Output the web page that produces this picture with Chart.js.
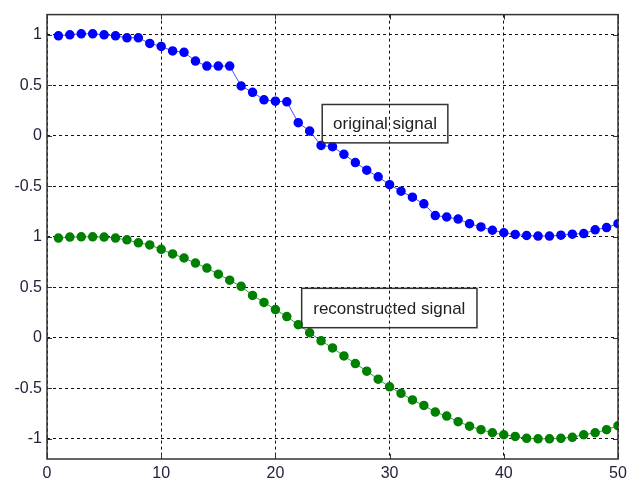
<!DOCTYPE html>
<html>
<head>
<meta charset="utf-8">
<script src="https://cdn.jsdelivr.net/npm/chart.js@4.4.1/dist/chart.umd.min.js"></script>
<style>
  body { margin: 0; background: #fff; }
  canvas { display: block; }
</style>
</head>
<body>
<canvas id="myChart" width="641" height="485"></canvas>
<script>
var xValues = [1,2,3,4,5,6,7,8,9,10,11,12,13,14,15,16,17,18,19,20,21,22,23,24,25,
               26,27,28,29,30,31,32,33,34,35,36,37,38,39,40,41,42,43,44,45,46,47,48,49,50];

var originalSignal = [0.99, 1.00, 1.01, 1.01, 1.00, 0.99, 0.97, 0.97, 0.915, 0.885,
                      0.84, 0.826, 0.74, 0.69, 0.69, 0.69, 0.493, 0.431, 0.356, 0.343,
                      0.336, 0.13, 0.047, -0.095, -0.108, -0.183, -0.265, -0.34, -0.406, -0.484,
                      -0.549, -0.608, -0.674, -0.79, -0.804, -0.824, -0.87, -0.902, -0.935, -0.96,
                      -0.977, -0.987, -0.993, -0.993, -0.984, -0.974, -0.968, -0.931, -0.909, -0.87];

var reconstructedSignal = [0.987, 0.997, 1.0, 1.0, 0.997, 0.987, 0.97, 0.94, 0.92, 0.876,
                           0.83, 0.79, 0.74, 0.69, 0.63, 0.57, 0.51, 0.42, 0.35, 0.28,
                           0.21, 0.13, 0.05, -0.03, -0.10, -0.18, -0.255, -0.33, -0.41, -0.485,
                           -0.55, -0.615, -0.67, -0.735, -0.775, -0.83, -0.875, -0.91, -0.94, -0.96,
                           -0.977, -0.995, -1.0, -1.0, -0.995, -0.985, -0.96, -0.94, -0.91, -0.87];

// the original signal is drawn shifted up by 2 above the reconstructed one
var originalOffset = 2;

var xTicks = [0, 10, 20, 30, 40, 50];
var yTickValues = [-1, -0.5, 0, 0.5, 1, 1.5, 2, 2.5, 3];
var yTickLabels = ["-1", "-0.5", "0", "0.5", "1", "-0.5", "0", "0.5", "1"];

var textFont = "'Liberation Sans', Arial, sans-serif";

// frame, inward ticks and the two text boxes
var matlabStyle = {
  id: "matlabStyle",
  afterDraw(chart) {
    const ctx = chart.ctx;
    const a = chart.chartArea;
    const xs = chart.scales.x;
    const ys = chart.scales.y;
    ctx.save();
    ctx.strokeStyle = "#333";
    ctx.lineWidth = 1;
    ctx.beginPath();
    yTickValues.forEach(v => {
      const py = Math.round(ys.getPixelForValue(v)) + 0.5;
      ctx.moveTo(a.left, py); ctx.lineTo(a.left + 5, py);
      ctx.moveTo(a.right, py); ctx.lineTo(a.right - 5, py);
    });
    xTicks.forEach(v => {
      const px = Math.round(xs.getPixelForValue(v)) + 0.5;
      ctx.moveTo(px, a.bottom); ctx.lineTo(px, a.bottom - 5);
      ctx.moveTo(px, a.top); ctx.lineTo(px, a.top + 5);
    });
    ctx.stroke();
    ctx.lineWidth = 1.5;
    ctx.strokeRect(a.left, a.top, a.right - a.left, a.bottom - a.top);

    const boxes = [
      { text: "original signal", x0: 24.1, x1: 35.1, y0: 2.31, y1: 1.93 },
      { text: "reconstructed signal", x0: 22.3, x1: 37.65, y0: 0.49, y1: 0.10 }
    ];
    ctx.font = "17px " + textFont;
    ctx.textAlign = "center";
    ctx.textBaseline = "middle";
    boxes.forEach(b => {
      const l = xs.getPixelForValue(b.x0), r = xs.getPixelForValue(b.x1);
      const t = ys.getPixelForValue(b.y0), bt = ys.getPixelForValue(b.y1);
      ctx.strokeStyle = "#333";
      ctx.lineWidth = 1.5;
      ctx.strokeRect(l, t, r - l, bt - t);
      ctx.fillStyle = "#222";
      ctx.fillText(b.text, (l + r) / 2, (t + bt) / 2 + 1);
    });
    ctx.restore();
  }
};

new Chart("myChart", {
  type: "line",
  data: {
    datasets: [{
      label: "original signal",
      data: xValues.map((x, i) => ({ x: x, y: originalSignal[i] + originalOffset })),
      borderColor: "#4a4aff",
      borderWidth: 1,
      pointRadius: 4,
      pointBorderWidth: 1.5,
      pointBackgroundColor: "#0000ff",
      pointBorderColor: "#0000ff",
      tension: 0
    }, {
      label: "reconstructed signal",
      data: xValues.map((x, i) => ({ x: x, y: reconstructedSignal[i] })),
      borderColor: "#3a993a",
      borderWidth: 1,
      pointRadius: 4,
      pointBorderWidth: 1.5,
      pointBackgroundColor: "#008000",
      pointBorderColor: "#008000",
      tension: 0
    }]
  },
  options: {
    responsive: false,
    animation: false,
    layout: { padding: { top: 9, right: 23, left: 0, bottom: 0 } },
    plugins: { legend: { display: false }, tooltip: { enabled: false } },
    scales: {
      x: {
        type: "linear",
        min: 0,
        max: 50,
        afterBuildTicks: s => { s.ticks = xTicks.map(v => ({ value: v })); },
        afterFit: s => { s.height = 26; },
        grid: { color: "#111", lineWidth: 1, drawTicks: false },
        border: { display: false, dash: [3, 3] },
        ticks: { padding: 5, color: "#22223a", font: { family: textFont, size: 16 }, maxRotation: 0 }
      },
      y: {
        min: -1.2,
        max: 3.2,
        afterBuildTicks: s => { s.ticks = yTickValues.map(v => ({ value: v })); },
        afterFit: s => { s.width = 47; },
        grid: { color: "#111", lineWidth: 1, drawTicks: false },
        border: { display: false, dash: [3, 3] },
        ticks: {
          padding: 5,
          color: "#22223a",
          font: { family: textFont, size: 16 },
          callback: v => {
            const i = yTickValues.indexOf(v);
            return i >= 0 ? yTickLabels[i] : "";
          }
        }
      }
    }
  },
  plugins: [matlabStyle]
});
</script>
</body>
</html>
